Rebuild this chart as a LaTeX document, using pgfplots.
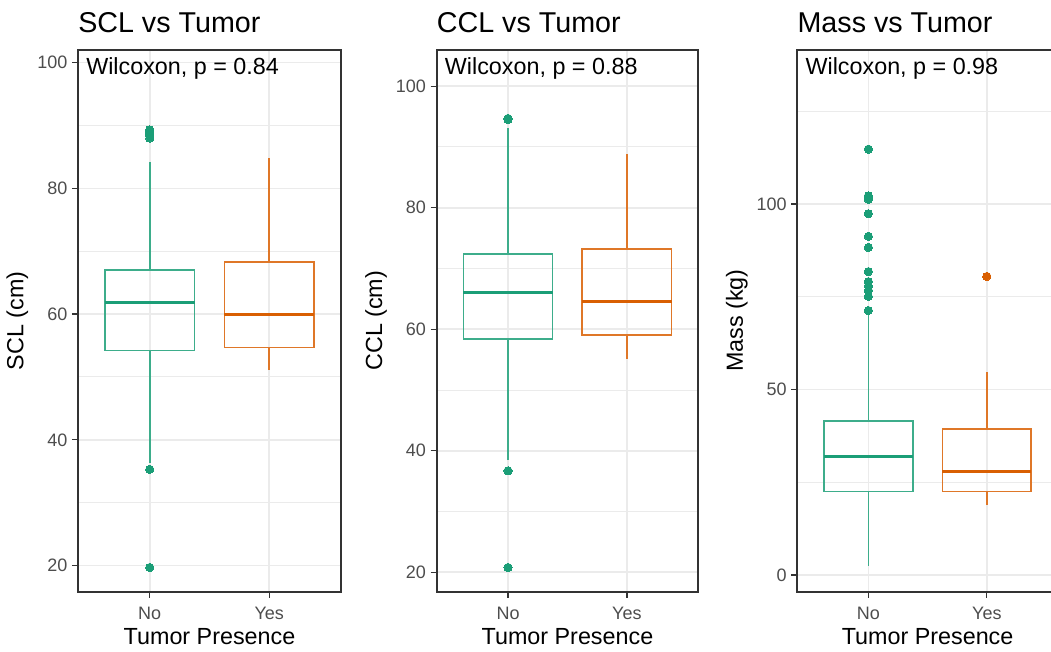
\documentclass[border=0pt]{standalone}
\usepackage{fontspec}
\setmainfont{Liberation Sans}
\usepackage{pgfplots}
\pgfplotsset{compat=1.18}
\usepgfplotslibrary{statistics}
\definecolor{gmed}{HTML}{1B9E77}
\definecolor{omed}{HTML}{D95F02}
\colorlet{gbox}{gmed!85!white}
\colorlet{obox}{omed!85!white}
\definecolor{gridc}{HTML}{EBEBEB}
\definecolor{axc}{HTML}{333333}
\definecolor{tickc}{HTML}{4D4D4D}
\pgfplotsset{
  rpanel/.style={
    scale only axis, height=406.5pt,
    xmin=0.4, xmax=2.6, xtick={1,2}, xticklabels={No,Yes},
    axis line style={draw=axc, line width=1.4pt},
    every tick/.style={draw=axc, line width=1pt},
    tick align=outside, major tick length=4.5pt, minor tick length=0pt, tick pos=left,
    xmajorgrids, ymajorgrids, yminorgrids,
    major grid style={draw=gridc, line width=1.2pt},
    minor grid style={draw=gridc, line width=0.7pt},
    /pgf/number format/assume math mode=true,
    ticklabel style={font=\fontsize{13.5}{16}\selectfont, text=tickc},
    xticklabel style={yshift=-3.6pt},
    xlabel={Tumor Presence},
    label style={font=\fontsize{17.5}{21}\selectfont, text=black},
    xlabel style={at={([yshift=-39.75pt]axis description cs:0.5,0)}, anchor=base},
    ylabel style={at={([xshift=-40.9pt]axis description cs:0,0.5)}, anchor=base},
    title style={at={([yshift=6.75pt]axis description cs:0,1)}, anchor=base west, inner sep=0pt, font=\fontsize{21.5}{26}\selectfont},
    boxplot/draw direction=y,
    boxplot/box extend=0.75, boxplot/whisker extend=0,
  },
  gplot/.style={draw=gbox, line width=1.3pt, mark=*, mark size=3.1pt, mark options={draw=gmed, fill=gmed, line width=0pt}},
  oplot/.style={draw=obox, line width=1.3pt, mark=*, mark size=3.1pt, mark options={draw=omed, fill=omed, line width=0pt}},
}
\newcommand{\wil}[1]{\node[anchor=base west, inner sep=0pt, font=\fontsize{17.5}{21}\selectfont] at ([xshift=6pt,yshift=-18.75pt]rel axis cs:0,1) {#1};}
\begin{document}
\begin{tikzpicture}
% ---------- SCL ----------
\begin{axis}[rpanel, width=197.25pt, at={(58.5pt,45pt)}, anchor=south west,
  ymin=15.8, ymax=102.0, ytick={20,40,60,80,100}, minor ytick={30,50,70,90},
  ylabel={SCL (cm)}, title={SCL vs Tumor}]
\addplot[gplot, boxplot prepared={draw position=1, lower whisker=36.3, lower quartile=54.2, median=61.8, upper quartile=67.0, upper whisker=84.2, every median/.style={draw=gmed, line width=2.3pt}}]
  coordinates {(1,19.7) (1,35.3) (1,88.0) (1,88.4) (1,88.7) (1,89.0) (1,89.3)};
\addplot[oplot, boxplot prepared={draw position=2, lower whisker=51.1, lower quartile=54.7, median=60.0, upper quartile=68.3, upper whisker=84.8, every median/.style={draw=omed, line width=2.3pt}}]
  coordinates {};
\wil{Wilcoxon, p = 0.84}
\end{axis}
% ---------- CCL ----------
\begin{axis}[rpanel, width=196.2pt, at={(327.5pt,45.2pt)}, anchor=south west,
  ymin=16.8, ymax=106.0, ytick={20,40,60,80,100}, minor ytick={30,50,70,90},
  ylabel={CCL (cm)}, title={CCL vs Tumor}]
\addplot[gplot, boxplot prepared={draw position=1, lower whisker=38.5, lower quartile=58.4, median=66.0, upper quartile=72.4, upper whisker=93.1, every median/.style={draw=gmed, line width=2.3pt}}]
  coordinates {(1,20.8) (1,36.7) (1,94.5) (1,94.7)};
\addplot[oplot, boxplot prepared={draw position=2, lower whisker=55.1, lower quartile=59.0, median=64.6, upper quartile=73.2, upper whisker=88.9, every median/.style={draw=omed, line width=2.3pt}}]
  coordinates {};
\wil{Wilcoxon, p = 0.88}
\end{axis}
% ---------- Mass ----------
\begin{axis}[rpanel, width=195.4pt, at={(598pt,45.2pt)}, anchor=south west,
  ymin=-4.5, ymax=141.6, ytick={0,50,100}, minor ytick={25,75,125},
  ylabel={Mass (kg)}, title={Mass vs Tumor}]
\addplot[gplot, boxplot prepared={draw position=1, lower whisker=2.4, lower quartile=22.5, median=31.9, upper quartile=41.5, upper whisker=70.1, every median/.style={draw=gmed, line width=2.3pt}}]
  coordinates {(1,71.3) (1,75.1) (1,76.7) (1,77.9) (1,79.1) (1,81.8) (1,88.3) (1,91.3) (1,97.4) (1,101.3) (1,102.2) (1,114.8)};
\addplot[oplot, boxplot prepared={draw position=2, lower whisker=18.9, lower quartile=22.5, median=27.9, upper quartile=39.4, upper whisker=54.7, every median/.style={draw=omed, line width=2.3pt}}]
  coordinates {(2,80.5)};
\wil{Wilcoxon, p = 0.98}
\end{axis}
\pgfresetboundingbox
\path[use as bounding box] (0,0) rectangle (788.25pt,489pt);
\end{tikzpicture}
\end{document}
